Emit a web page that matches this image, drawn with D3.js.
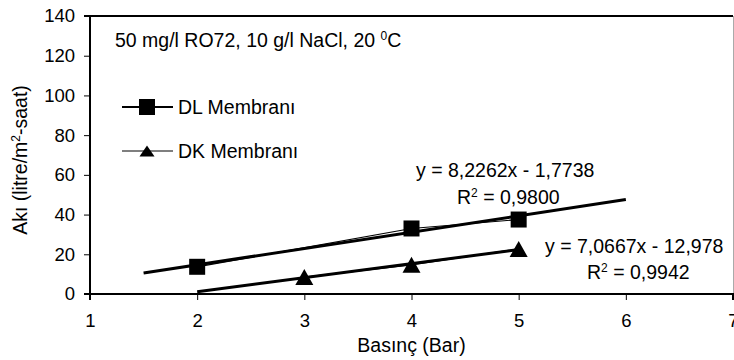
<!DOCTYPE html>
<html>
<head>
<meta charset="utf-8">
<script src="https://cdn.jsdelivr.net/npm/d3@7"></script>
<style>
  html, body { margin: 0; padding: 0; background: #fff; }
  svg text { font-family: "Liberation Sans", Arial, sans-serif; fill: #000; }
</style>
</head>
<body>
<svg id="chart" width="734" height="360"></svg>
<script>
// Flux vs. pressure for two membranes
const dlPressure = [2, 4, 5];
const dlFlux = [13.7, 33.0, 37.5];
const dkPressure = [3, 4, 5];
const dkFlux = [8.5, 14.7, 22.7];

// Linear trendlines (slope, intercept) and their x ranges
const dlFit = { slope: 8.2262, intercept: -1.7738, from: 1.5, to: 6 };
const dkFit = { slope: 7.0667, intercept: -12.978, from: 2, to: 5 };

const xTicks = [1, 2, 3, 4, 5, 6, 7];
const yTicks = [0, 20, 40, 60, 80, 100, 120, 140];

const FS = 19.5;      // text size
const TICK_FS = 18.5; // tick label size

const svg = d3.select("#chart");
const W = 734, H = 360;
const margin = { left: 90, right: 1, top: 16, bottom: 66 };

const x = d3.scaleLinear().domain([1, 7]).range([margin.left, W - margin.right]);
const y = d3.scaleLinear().domain([0, 140]).range([H - margin.bottom, margin.top]);

// Plot frame: top and right edges
svg.append("line").attr("x1", x(1)).attr("x2", x(7)).attr("y1", y(140)).attr("y2", y(140))
  .attr("stroke", "#000").attr("stroke-width", 2);
svg.append("line").attr("x1", x(7) + 0.5).attr("x2", x(7) + 0.5).attr("y1", y(140)).attr("y2", y(0))
  .attr("stroke", "#aaa").attr("stroke-width", 1);

// Axes
const yAxis = svg.append("g").attr("transform", `translate(${x(1)},0)`)
  .call(d3.axisLeft(y).tickValues(yTicks).tickSize(6).tickPadding(9).tickFormat(d3.format("d")));
const xAxis = svg.append("g").attr("transform", `translate(0,${y(0)})`)
  .call(d3.axisBottom(x).tickValues(xTicks).tickSize(6).tickPadding(14).tickFormat(d3.format("d")));

[yAxis, xAxis].forEach(g => {
  g.select(".domain").attr("stroke", "#000").attr("stroke-width", 2);
  g.selectAll(".tick line").attr("stroke", "#000").attr("stroke-width", 1);
  g.selectAll(".tick text").attr("font-size", TICK_FS)
    .attr("font-family", "Liberation Sans, Arial, sans-serif").attr("fill", "#000");
});
yAxis.select(".domain").attr("d", `M-6,${y(140)}H0V${y(0)}H-6`);
xAxis.select(".domain").attr("d", `M${x(1)},6V0H${x(7)}V6`);

// Axis titles
svg.append("text").attr("x", x(4)).attr("y", 352).attr("text-anchor", "middle")
  .attr("font-size", FS).text("Basınç (Bar)");
const yt = svg.append("text").attr("transform", `translate(27,160) rotate(-90)`)
  .attr("text-anchor", "middle").attr("font-size", FS);
yt.append("tspan").text("Akı (litre/m");
yt.append("tspan").attr("font-size", 12).attr("dy", -7).text("2");
yt.append("tspan").attr("dy", 7).text("-saat)");

// Condition note
const note = svg.append("text").attr("x", 115).attr("y", 47).attr("font-size", FS);
note.append("tspan").text("50 mg/l RO72, 10 g/l NaCl, 20 ");
note.append("tspan").attr("font-size", 12).attr("dy", -7).text("0");
note.append("tspan").attr("dy", 7).text("C");

// Trendlines
function trend(fit) {
  return [[fit.from, fit.slope * fit.from + fit.intercept], [fit.to, fit.slope * fit.to + fit.intercept]];
}
const line = d3.line().x(d => x(d[0])).y(d => y(d[1]));
[dlFit, dkFit].forEach(f => {
  svg.append("path").datum(trend(f)).attr("d", line)
    .attr("fill", "none").attr("stroke", "#000").attr("stroke-width", 3);
});

// Series lines
const dlData = dlPressure.map((p, i) => [p, dlFlux[i]]);
const dkData = dkPressure.map((p, i) => [p, dkFlux[i]]);
[dlData, dkData].forEach(d => {
  svg.append("path").datum(d).attr("d", line)
    .attr("fill", "none").attr("stroke", "#000").attr("stroke-width", 1.2);
});

// Marker shapes centred on their bounding box
const square = s => `M${-s / 2},${-s / 2}h${s}v${s}h${-s}Z`;
const triangle = (w, h) => `M0,${-h / 2}L${w / 2},${h / 2}L${-w / 2},${h / 2}Z`;

svg.selectAll(".dl").data(dlData).join("path").attr("class", "dl")
  .attr("d", square(16)).attr("transform", d => `translate(${x(d[0])},${y(d[1])})`).attr("fill", "#000");
svg.selectAll(".dk").data(dkData).join("path").attr("class", "dk")
  .attr("d", triangle(18, 16)).attr("transform", d => `translate(${x(d[0])},${y(d[1])})`).attr("fill", "#000");

// Legend
const legend = [
  { name: "DL Membranı", y: 107, shape: square(16), w: 1.8 },
  { name: "DK Membranı", y: 151, shape: triangle(15, 11), w: 1.2 }
];
legend.forEach(l => {
  svg.append("line").attr("x1", 122).attr("x2", 173).attr("y1", l.y).attr("y2", l.y)
    .attr("stroke", "#000").attr("stroke-width", l.w);
  svg.append("path").attr("d", l.shape).attr("transform", `translate(147,${l.y})`).attr("fill", "#000");
  svg.append("text").attr("x", 178).attr("y", l.y + 7).attr("font-size", FS).text(l.name);
});

// Trendline equations
function eq(xPos, yPos, text, r2X, r2Y, r2) {
  svg.append("text").attr("x", xPos).attr("y", yPos).attr("font-size", FS).text(text);
  const t = svg.append("text").attr("x", r2X).attr("y", r2Y).attr("font-size", FS);
  t.append("tspan").text("R");
  t.append("tspan").attr("font-size", 12).attr("dy", -7).text("2");
  t.append("tspan").attr("dy", 7).text(" = " + r2);
}
eq(416, 177, "y = 8,2262x - 1,7738", 457, 204, "0,9800");
eq(545, 253, "y = 7,0667x - 12,978", 587, 279, "0,9942");
</script>
</body>
</html>
